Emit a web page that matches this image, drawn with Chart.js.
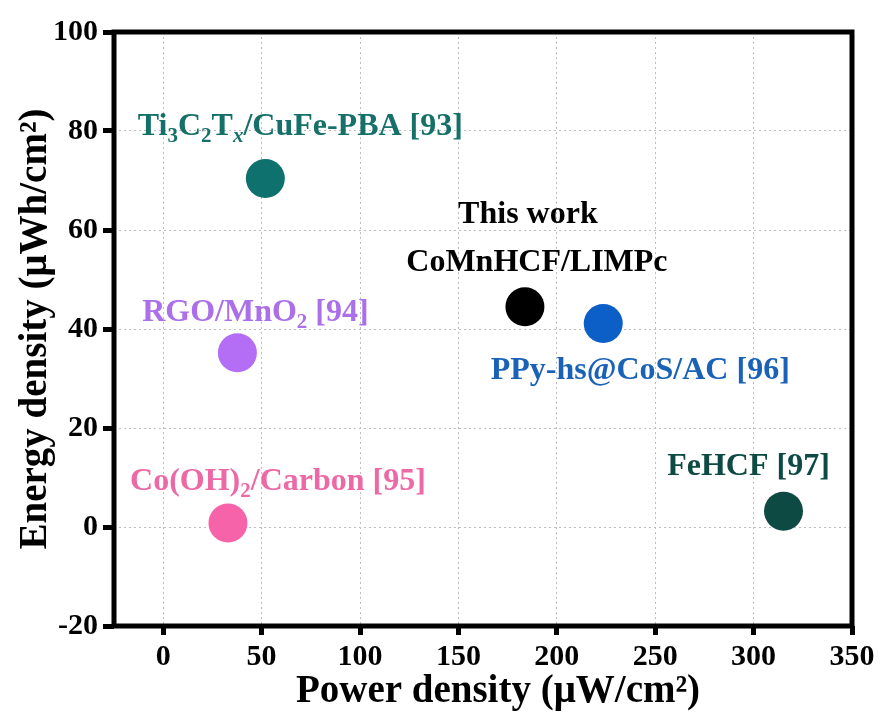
<!DOCTYPE html>
<html>
<head>
<meta charset="utf-8">
<script src="https://cdn.jsdelivr.net/npm/chart.js@4"></script>
<style>
  html, body { margin: 0; padding: 0; background: #ffffff; }
  #wrap { width: 880px; height: 716px; position: relative; }
</style>
</head>
<body>
<div id="wrap"><canvas id="c" width="880" height="716"></canvas></div>
<script>
// ---- data ----
const materials = [
  'Ti_3C_2T_x/CuFe-PBA [93]',
  'RGO/MnO_2 [94]',
  'Co(OH)_2/Carbon [95]',
  'This work|CoMnHCF/LIMPc',
  'PPy-hs@CoS/AC [96]',
  'FeHCF [97]'
];
const powerDensity  = [51.9, 37.7, 32.9, 183.8, 223.6, 315.2];   // µW/cm²
const energyDensity = [70.4, 35.2, 0.8, 44.5, 41.1, 3.2];        // µWh/cm²
const xTickValues = [0, 50, 100, 150, 200, 250, 300, 350];
const yTickValues = [-20, 0, 20, 40, 60, 80, 100];
const xTitle = 'Power density (\u03bcW/cm\u00b2)';
const yTitle = 'Energy density (\u03bcWh/cm\u00b2)';

// ---- styles ----
const pointColors = ['#0e716d', '#b36ef5', '#f763a9', '#000000', '#0b5fc6', '#0d4a43'];
const textColors  = ['#15706a', '#aa6fe9', '#ec69a6', '#000000', '#1a62b8', '#0d4a43'];
// label placement: [dx of text centre, dy of baseline] in px relative to the point, one entry per line
const labelOffsets = [
  [[35, -44]],
  [[18, -32]],
  [[50, -33]],
  [[3, -84], [12, -36]],
  [[37, 55]],
  [[-35, -36]]
];
const FONT = '"Liberation Serif", "Times New Roman", serif';
const LABEL_SIZE = 32;
const TITLE_SIZE = 39;

function parseRich(str) {
  const parts = [];
  let buf = '';
  for (let i = 0; i < str.length; i++) {
    if (str[i] === '_' && i + 1 < str.length) {
      if (buf) parts.push({t: buf, sub: false});
      buf = '';
      parts.push({t: str[i + 1], sub: true, italic: /[a-z]/i.test(str[i + 1])});
      i++;
    } else buf += str[i];
  }
  if (buf) parts.push({t: buf, sub: false});
  return parts;
}

const labelPlugin = {
  id: 'richLabels',
  afterDatasetsDraw(chart) {
    const ctx = chart.ctx;
    const xs = chart.scales.x, ys = chart.scales.y;
    ctx.save();
    ctx.textBaseline = 'alphabetic';
    materials.forEach((m, i) => {
      const px = xs.getPixelForValue(powerDensity[i]);
      const py = ys.getPixelForValue(energyDensity[i]);
      const lines = m.split('|');
      lines.forEach((line, li) => {
        const parts = parseRich(line);
        const main = 'bold ' + LABEL_SIZE + 'px ' + FONT;
        const subSize = Math.round(LABEL_SIZE * 0.66);
        let w = 0;
        parts.forEach(p => {
          ctx.font = p.sub ? ((p.italic ? 'italic ' : '') + 'bold ' + subSize + 'px ' + FONT) : main;
          p.w = ctx.measureText(p.t).width;
          w += p.w;
        });
        const off = labelOffsets[i][li];
        let x = px + off[0] - w / 2;
        const base = py + off[1];
        ctx.fillStyle = textColors[i];
        parts.forEach(p => {
          ctx.font = p.sub ? ((p.italic ? 'italic ' : '') + 'bold ' + subSize + 'px ' + FONT) : main;
          ctx.fillText(p.t, x, p.sub ? base + LABEL_SIZE * 0.22 : base);
          x += p.w;
        });
      });
    });
    // x axis title (drawn slightly right of centre as in the reference)
    const a = chart.chartArea;
    ctx.font = 'bold ' + TITLE_SIZE + 'px ' + FONT;
    ctx.fillStyle = '#000';
    ctx.textAlign = 'center';
    ctx.fillText(xTitle, (a.left + a.right) / 2 + 15, 702);
    ctx.restore();
  }
};

const framePlugin = {
  id: 'frame',
  afterDatasetsDraw(chart) {
    const a = chart.chartArea;
    const ctx = chart.ctx;
    ctx.save();
    ctx.setLineDash([]);
    ctx.strokeStyle = '#000';
    ctx.lineWidth = 5;
    ctx.strokeRect(a.left, a.top, a.right - a.left, a.bottom - a.top);
    ctx.restore();
  }
};

const tickFont = {family: FONT, size: 30, weight: 'bold'};

new Chart(document.getElementById('c'), {
  type: 'scatter',
  data: {
    datasets: [{
      data: powerDensity.map((x, i) => ({x: x, y: energyDensity[i]})),
      backgroundColor: pointColors,
      borderColor: pointColors,
      borderWidth: 0,
      pointRadius: 19.5,
      pointHoverRadius: 19.5
    }]
  },
  options: {
    responsive: false,
    animation: false,
    devicePixelRatio: 1,
    layout: {padding: {top: 32, right: 28, bottom: 0, left: 0}},
    plugins: {legend: {display: false}, tooltip: {enabled: false}},
    scales: {
      x: {
        type: 'linear',
        min: -25, max: 350,
        afterBuildTicks(s) { s.ticks = xTickValues.map(v => ({value: v})); },
        afterFit(s) { s.height = 90; },
        ticks: {font: tickFont, color: '#000', padding: 4, maxRotation: 0, autoSkip: false},
        grid: {color: '#bdbdbd', lineWidth: 1, tickColor: '#000', tickWidth: 5, tickLength: 9, tickBorderDash: []},
        border: {display: false, dash: [2, 3]},
        title: {display: false}
      },
      y: {
        type: 'linear',
        min: -20, max: 100,
        afterBuildTicks(s) { s.ticks = yTickValues.map(v => ({value: v})); },
        afterFit(s) { s.width = 114; },
        ticks: {font: tickFont, color: '#000', padding: 5},
        grid: {color: '#bdbdbd', lineWidth: 1, tickColor: '#000', tickWidth: 5, tickLength: 11, tickBorderDash: []},
        border: {display: false, dash: [2, 3]},
        title: {display: true, text: yTitle, color: '#000',
                font: {family: FONT, size: TITLE_SIZE, weight: 'bold'}, padding: {top: 13, bottom: 0}}
      }
    }
  },
  plugins: [labelPlugin, framePlugin]
});
</script>
</body>
</html>
